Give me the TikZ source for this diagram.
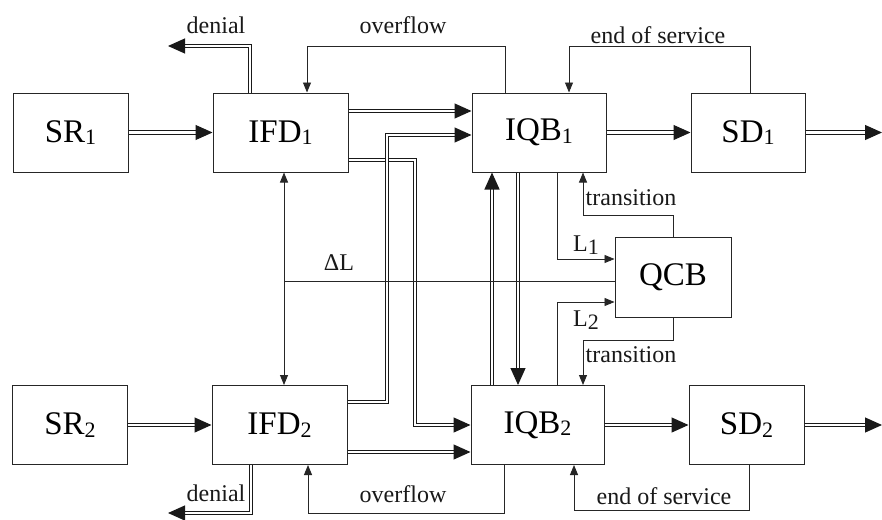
\documentclass[tikz,border=0pt]{standalone}
\usepackage{fontspec}
\setmainfont{Liberation Serif}
\usetikzlibrary{arrows.meta}
\newcommand{\mysub}[1]{\raisebox{-2.5pt}{\fontsize{22}{22}\selectfont #1}}
\begin{document}
\begin{tikzpicture}[x=1pt,y=-1pt,
  box/.style={draw=black!85, line width=1pt, minimum height=79pt, inner sep=0pt, font=\fontsize{33}{33}\selectfont},
  lbl/.style={font=\fontsize{24}{24}\selectfont, inner sep=0pt, text=black!90},
  dbl/.style={draw=black!90, double=white, double distance=2.4pt, line width=1.1pt, -{Triangle[length=17pt,width=15pt]}},
  sgl/.style={draw=black!85, line width=0.9pt, -{Triangle[length=10pt,width=8pt]}},
  sgln/.style={draw=black!85, line width=0.9pt},
  sglb/.style={draw=black!85, line width=0.9pt, {Triangle[length=10pt,width=8pt]}-{Triangle[length=10pt,width=8pt]}}]
\useasboundingbox (0,0) rectangle (882,519);
\fill[white] (0,0) rectangle (882,519);
\foreach \x in {250,251,284,307,308,492,504,505,518,557,569,574,583,750,749}
  \coordinate (v\x) at (\x,0);
\foreach \y in {111,135,160,259,281,302,402,452}
  \coordinate (h\y) at (0,\y);
\coordinate (o1) at (882,132.5);
\coordinate (o2) at (882,425);
% boxes
\node[box, minimum width=115pt] (SR1) at (70.5,132.5) {SR\mysub{1}};
\node[box, minimum width=135pt] (IFD1) at (280.5,132.5) {IFD\mysub{1}};
\node[box, minimum width=134pt] (IQB1) at (539,132.5) {IQB\mysub{1}};
\node[box, minimum width=114pt] (SD1) at (748,132.5) {SD\mysub{1}};
\node[box, minimum width=115pt] (SR2) at (70,425) {SR\mysub{2}};
\node[box, minimum width=135pt] (IFD2) at (279.5,425) {IFD\mysub{2}};
\node[box, minimum width=133pt] (IQB2) at (537.5,425) {IQB\mysub{2}};
\node[box, minimum width=115pt] (SD2) at (746.5,425) {SD\mysub{2}};
\node[box, minimum width=116pt, minimum height=80pt] (QCB) at (673,277) {QCB};
% double flows
\draw[dbl] (SR1.east) -- (IFD1.west);
\draw[dbl] (SR2.east) -- (IFD2.west);
\draw[dbl] (IFD1.east |- h111) -- (IQB1.west |- h111);
\draw[dbl] (IFD1.east |- h160) -- (415,160) -- (415,425) -- (IQB2.west);
\draw[dbl] (IFD2.east |- h402) -- (387,402) -- (387,135) -- (IQB1.west |- h135);
\draw[dbl] (IFD2.east |- h452) -- (IQB2.west |- h452);
\draw[dbl] (IQB1.east) -- (SD1.west);
\draw[dbl] (IQB2.east) -- (SD2.west);
\draw[dbl] (SD1.east) -- (o1);
\draw[dbl] (SD2.east) -- (o2);
\draw[dbl] (IQB2.north -| v492) -- (IQB1.south -| v492);
\draw[dbl] (IQB1.south -| v518) -- (IQB2.north -| v518);
\draw[dbl] (IFD1.north -| v250) -- (250,46) -- (168,46);
\draw[dbl] (IFD2.south -| v251) -- (251,513) -- (168,513);
% single signals
\draw[sgl] (IQB1.north -| v505) -- (505,46) -- (307,46) -- (IFD1.north -| v307);
\draw[sgl] (SD1.north -| v750) -- (750,46) -- (569,46) -- (IQB1.north -| v569);
\draw[sgl] (IQB2.south -| v504) -- (504,513) -- (308,513) -- (IFD2.south -| v308);
\draw[sgl] (SD2.south -| v749) -- (749,510) -- (574,510) -- (IQB2.south -| v574);
\draw[sglb] (IFD1.south -| v284) -- (IFD2.north -| v284);
\draw[sgln] (284,281) -- (QCB.west |- h281);
\draw[sgl] (IQB1.south -| v557) -- (557,259) -- (QCB.west |- h259);
\draw[sgl] (IQB2.north -| v557) -- (557,302) -- (QCB.west |- h302);
\draw[sgl] (QCB.north) -- (673,215) -- (583,215) -- (IQB1.south -| v583);
\draw[sgl] (QCB.south) -- (673,340) -- (583,340) -- (IQB2.north -| v583);
% labels
\node[lbl] (den1) at (216,25) {denial};
\node[lbl] (den2) at (216,493) {denial};
\node[lbl] (ovf1) at (403,25) {overflow};
\node[lbl] (ovf2) at (403,494) {overflow};
\node[lbl] (eos1) at (658,35) {end of service};
\node[lbl] (eos2) at (664,496) {end of service};
\node[lbl] (tr1) at (631,198) {transition};
\node[lbl] (tr2) at (631,355) {transition};
\node[lbl] (l1) at (586,245) {L\mysub{1}};
\node[lbl] (l2) at (586,320) {L\mysub{2}};
\node[lbl] (dl) at (339,263) {ΔL};
\end{tikzpicture}
\end{document}
